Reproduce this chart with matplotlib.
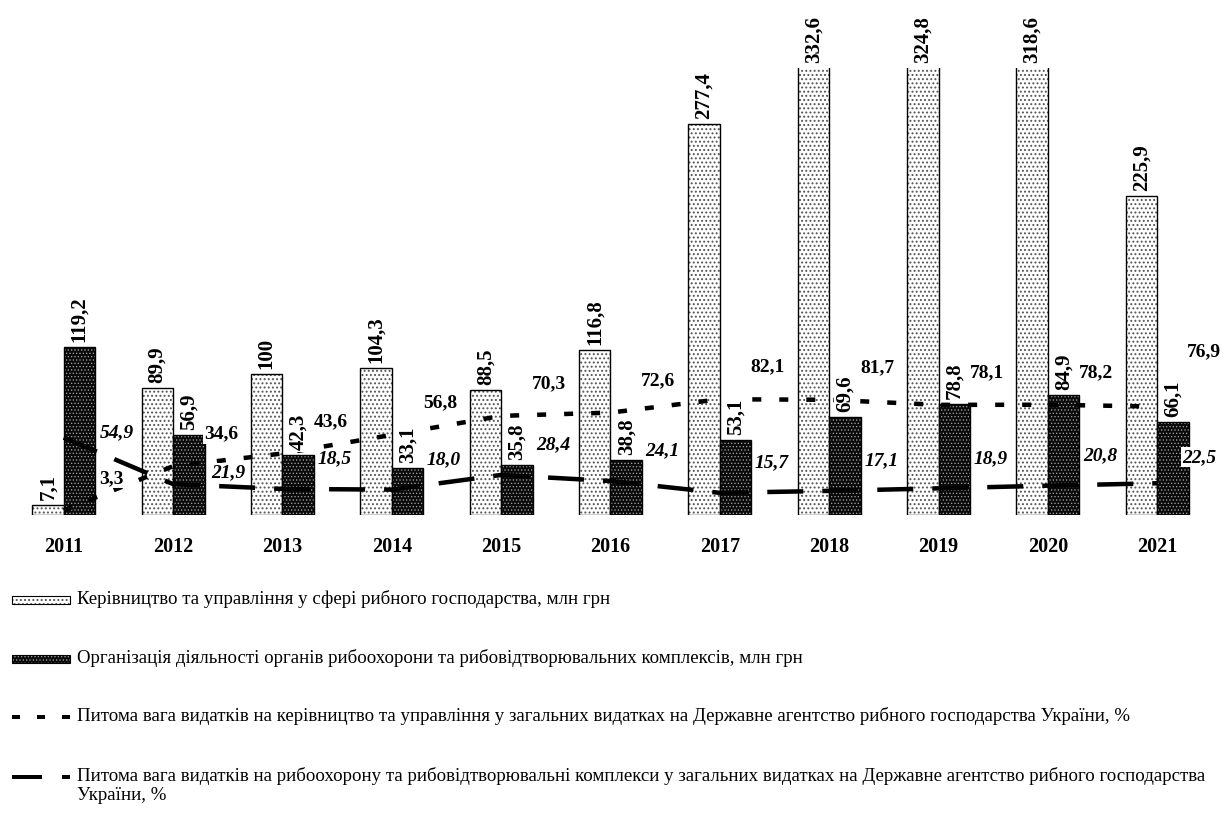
import numpy as np
import matplotlib
matplotlib.use("Agg")
import matplotlib.pyplot as plt
from matplotlib.patches import Rectangle
from matplotlib.lines import Line2D

plt.rcParams['font.family'] = ['Liberation Serif', 'DejaVu Serif']
plt.rcParams['lines.scale_dashes'] = False

years = ['2011', '2012', '2013', '2014', '2015', '2016', '2017', '2018', '2019', '2020', '2021']
management = [7.1, 89.9, 100, 104.3, 88.5, 116.8, 277.4, 332.6, 324.8, 318.6, 225.9]
protection = [119.2, 56.9, 42.3, 33.1, 35.8, 38.8, 53.1, 69.6, 78.8, 84.9, 66.1]
mgmt_share = [3.3, 34.6, 43.6, 56.8, 70.3, 72.6, 82.1, 81.7, 78.1, 78.2, 76.9]
prot_share = [54.9, 21.9, 18.5, 18.0, 28.4, 24.1, 15.7, 17.1, 18.9, 20.8, 22.5]

legend_labels = [
    'Керівництво та управління у сфері рибного господарства, млн грн',
    'Організація діяльності органів рибоохорони та рибовідтворювальних комплексів, млн грн',
    'Питома вага видатків на керівництво та управління у загальних видатках на Державне агентство рибного господарства України, %',
    'Питома вага видатків на рибоохорону та рибовідтворювальні комплекси у загальних видатках на Державне агентство рибного господарства\nУкраїни, %',
]

PX = 0.72  # points per pixel at dpi 100
W, H = 1223, 816


def fx(px):
    return px / W


def fy(py):
    return 1 - py / H


def bar_text(v):
    return ('%g' % v).replace('.', ',')


def share_text(v):
    return ('%.1f' % v).replace('.', ',')


LIGHT = dict(face='white', hatch='....', hcolor='#555555', hlw=0.9)
DARK = dict(face='#0a0a0a', hatch='.....', hcolor='#a0a0a0', hlw=0.55)

fig = plt.figure(figsize=(W / 100, H / 100), dpi=100)
ax = fig.add_axes([fx(9), fy(515), fx(1212) - fx(9), fy(68) - fy(515)])
ax.set_xlim(-0.5, len(years) - 0.5)
ax.set_ylim(0, 317)
x = np.arange(len(years))
bw = 0.288


def hatched_bars(a, xs, vals, st):
    with plt.rc_context({'hatch.linewidth': st['hlw']}):
        a.bar(xs, vals, bw, color=st['face'], edgecolor=st['hcolor'], hatch=st['hatch'],
              linewidth=0, zorder=2)
    a.bar(xs, vals, bw, facecolor='none', edgecolor='black', linewidth=1.0, zorder=3)


hatched_bars(ax, x - bw / 2, management, LIGHT)
hatched_bars(ax, x + bw / 2, protection, DARK)

ax.set_xticks(x, years, fontweight='bold', fontsize=14.5)
ax.tick_params(axis='x', length=0, pad=16)
ax.set_yticks([])
for s in ax.spines.values():
    s.set_visible(False)

ax2 = ax.twinx()
ax2.set_ylim(0, 317)
ax2.set_yticks([])
for s in ax2.spines.values():
    s.set_visible(False)

LW = 4.5 * PX
dash_mgmt = (0, (9 * PX, 18 * PX))
dash_prot = (0, (36 * PX, 19 * PX))
ax2.plot(x, mgmt_share, color='black', lw=LW, linestyle=dash_mgmt, zorder=4)
ax2.plot(x, prot_share, color='black', lw=LW, linestyle=dash_prot, zorder=4)

box = dict(facecolor='white', edgecolor='none', pad=1.0)
top = ax.get_ylim()[1]
for xs, vals in ((x - bw / 2, management), (x + bw / 2, protection)):
    for xi, v in zip(xs, vals):
        ax2.annotate(bar_text(v), xy=(xi, min(v, top)), xycoords=ax.transData,
                     xytext=(0, 5), textcoords='offset pixels', rotation=90,
                     ha='center', va='bottom', fontsize=15, fontweight='bold',
                     bbox=box, zorder=6, annotation_clip=False)

# label offsets (pixels); a few were moved by hand in the original
mgmt_off = {10: (47, 55)}
prot_off = {0: (53, 5), 1: (55, 11), 10: (42, 26)}
for i, v in enumerate(mgmt_share):
    dx, dy = mgmt_off.get(i, (48, 32))
    ax2.annotate(share_text(v), xy=(x[i], v), xytext=(dx, dy), textcoords='offset pixels',
                 ha='center', va='center', fontsize=14, fontweight='bold',
                 bbox=box, zorder=6, annotation_clip=False)
for i, v in enumerate(prot_share):
    dx, dy = prot_off.get(i, (52, 30))
    ax2.annotate(share_text(v), xy=(x[i], v), xytext=(dx, dy), textcoords='offset pixels',
                 ha='center', va='center', fontsize=14, fontweight='bold', style='italic',
                 bbox=box, zorder=6, annotation_clip=False)

# legend, drawn by hand under the plot
rows = [600, 659, 717, 777]
hx0, hx1, tx = 12, 70, 77
for st, r in ((LIGHT, rows[0]), (DARK, rows[1])):
    with plt.rc_context({'hatch.linewidth': st['hlw']}):
        fig.add_artist(Rectangle((fx(hx0), fy(r + 4)), fx(hx1) - fx(hx0), fy(r - 4) - fy(r + 4),
                                 transform=fig.transFigure, facecolor=st['face'],
                                 edgecolor=st['hcolor'], hatch=st['hatch'], linewidth=0))
    fig.add_artist(Rectangle((fx(hx0), fy(r + 4)), fx(hx1) - fx(hx0), fy(r - 4) - fy(r + 4),
                             transform=fig.transFigure, facecolor='none',
                             edgecolor='black', linewidth=0.8))
fig.add_artist(Line2D([fx(hx0), fx(hx1)], [fy(rows[2])] * 2, transform=fig.transFigure,
                      color='black', lw=4 * PX, linestyle=(0, (8 * PX, 17 * PX))))
fig.add_artist(Line2D([fx(hx0), fx(hx1)], [fy(rows[3])] * 2, transform=fig.transFigure,
                      color='black', lw=4 * PX, linestyle=(0, (30 * PX, 20 * PX, 8 * PX, 20 * PX))))
for r, lab in zip(rows, legend_labels):
    fig.text(fx(tx), fy(r - 10), lab, ha='left', va='top', fontsize=13.6, linespacing=1.15)

fig.savefig('out.png', dpi=100)
